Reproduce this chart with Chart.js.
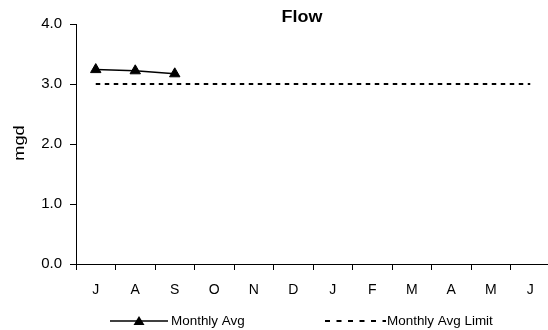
<!DOCTYPE html>
<html>
<head>
<meta charset="utf-8">
<script src="https://cdn.jsdelivr.net/npm/chart.js@4/dist/chart.umd.min.js"></script>
<style>
  html, body { margin: 0; padding: 0; background: #fff; overflow: hidden; }
  #wrap { width: 557px; height: 330px; }
</style>
</head>
<body>
<div id="wrap"><canvas id="flow" width="557" height="330"></canvas></div>
<script>
// Fiscal-year months, July through June
const months = ['J', 'A', 'S', 'O', 'N', 'D', 'J', 'F', 'M', 'A', 'M', 'J'];
// Monthly average flow, mgd (reported months only)
const monthlyAvg = [3.24, 3.22, 3.17, null, null, null, null, null, null, null, null, null];
// Permitted monthly average limit, mgd
const monthlyAvgLimit = [3.0, 3.0, 3.0, 3.0, 3.0, 3.0, 3.0, 3.0, 3.0, 3.0, 3.0, 3.0];
// Value axis ticks
const yTicks = [0, 1, 2, 3, 4];

const FONT = "'Liberation Sans', Arial, sans-serif";

// Draws text slightly widened along its own direction
function wideText(ctx, text, x, y, stretch, align) {
  ctx.save();
  ctx.translate(x, y);
  ctx.scale(stretch, 1);
  ctx.textAlign = align;
  ctx.fillText(text, 0, 0);
  ctx.restore();
}

// Title, axis title and legend are painted directly onto the canvas
const decorations = {
  id: 'decorations',
  afterDraw(chart) {
    const ctx = chart.ctx;
    ctx.save();
    ctx.fillStyle = '#000';
    ctx.textBaseline = 'middle';

    // Chart title
    ctx.font = 'bold 16px ' + FONT;
    wideText(ctx, 'Flow', 302, 18, 1.12, 'center');

    // Value axis title, rotated
    ctx.save();
    ctx.translate(20, 143);
    ctx.rotate(-Math.PI / 2);
    ctx.font = '14px ' + FONT;
    wideText(ctx, 'mgd', 0, 0, 1.3, 'center');
    ctx.restore();

    // Legend row
    const ly = 321;
    const ds0 = chart.data.datasets[0];
    const ds1 = chart.data.datasets[1];
    ctx.strokeStyle = ds0.borderColor;
    ctx.lineWidth = ds0.borderWidth;
    ctx.beginPath();
    ctx.moveTo(110, ly);
    ctx.lineTo(168, ly);
    ctx.stroke();
    ctx.fillStyle = ds0.pointBackgroundColor;
    ctx.beginPath();
    ctx.moveTo(139, ly - 5);
    ctx.lineTo(144.5, ly + 4);
    ctx.lineTo(133.5, ly + 4);
    ctx.closePath();
    ctx.fill();

    ctx.strokeStyle = ds1.borderColor;
    ctx.lineWidth = ds1.borderWidth;
    ctx.setLineDash([5, 6.5]);
    ctx.beginPath();
    ctx.moveTo(325, ly);
    ctx.lineTo(386, ly);
    ctx.stroke();
    ctx.setLineDash([]);

    ctx.fillStyle = '#000';
    ctx.font = '12px ' + FONT;
    wideText(ctx, ds0.label, 171, ly + 1, 1.12, 'left');
    wideText(ctx, ds1.label, 387, ly + 1, 1.12, 'left');
    ctx.restore();
  }
};

new Chart(document.getElementById('flow'), {
  type: 'line',
  data: {
    labels: months,
    datasets: [
      {
        label: 'Monthly Avg',
        data: monthlyAvg,
        borderColor: '#000',
        borderWidth: 1.5,
        pointStyle: 'triangle',
        pointRadius: 6,
        pointBackgroundColor: '#000',
        pointBorderColor: '#000',
        pointBorderWidth: 1,
        spanGaps: false,
        tension: 0
      },
      {
        label: 'Monthly Avg Limit',
        data: monthlyAvgLimit,
        borderColor: '#000',
        borderWidth: 2,
        borderDash: [4.5, 4.5],
        pointRadius: 0,
        tension: 0
      }
    ]
  },
  options: {
    responsive: false,
    animation: false,
    devicePixelRatio: 1,
    layout: { padding: { top: 24, right: 0, bottom: 0, left: 0 } },
    plugins: {
      legend: { display: false },
      title: { display: false },
      tooltip: { enabled: false }
    },
    scales: {
      x: {
        offset: true,
        grid: { offset: true, drawOnChartArea: false, color: '#000', tickLength: 6, lineWidth: 1 },
        border: { display: true, color: '#000', width: 1 },
        ticks: { color: '#000', padding: 12, font: { family: FONT, size: 14 }, maxRotation: 0, autoSkip: false },
        afterFit(scale) { scale.height = 66; }
      },
      y: {
        min: 0,
        max: 4,
        afterBuildTicks(scale) { scale.ticks = yTicks.map(v => ({ value: v })); },
        grid: { drawOnChartArea: false, color: '#000', tickLength: 6, lineWidth: 1 },
        border: { display: true, color: '#000', width: 1 },
        ticks: {
          color: '#000',
          padding: 8,
          font: { family: FONT, size: 15 },
          callback: v => Number(v).toFixed(1)
        },
        afterFit(scale) { scale.width = 76; }
      }
    }
  },
  plugins: [decorations]
});
</script>
</body>
</html>
